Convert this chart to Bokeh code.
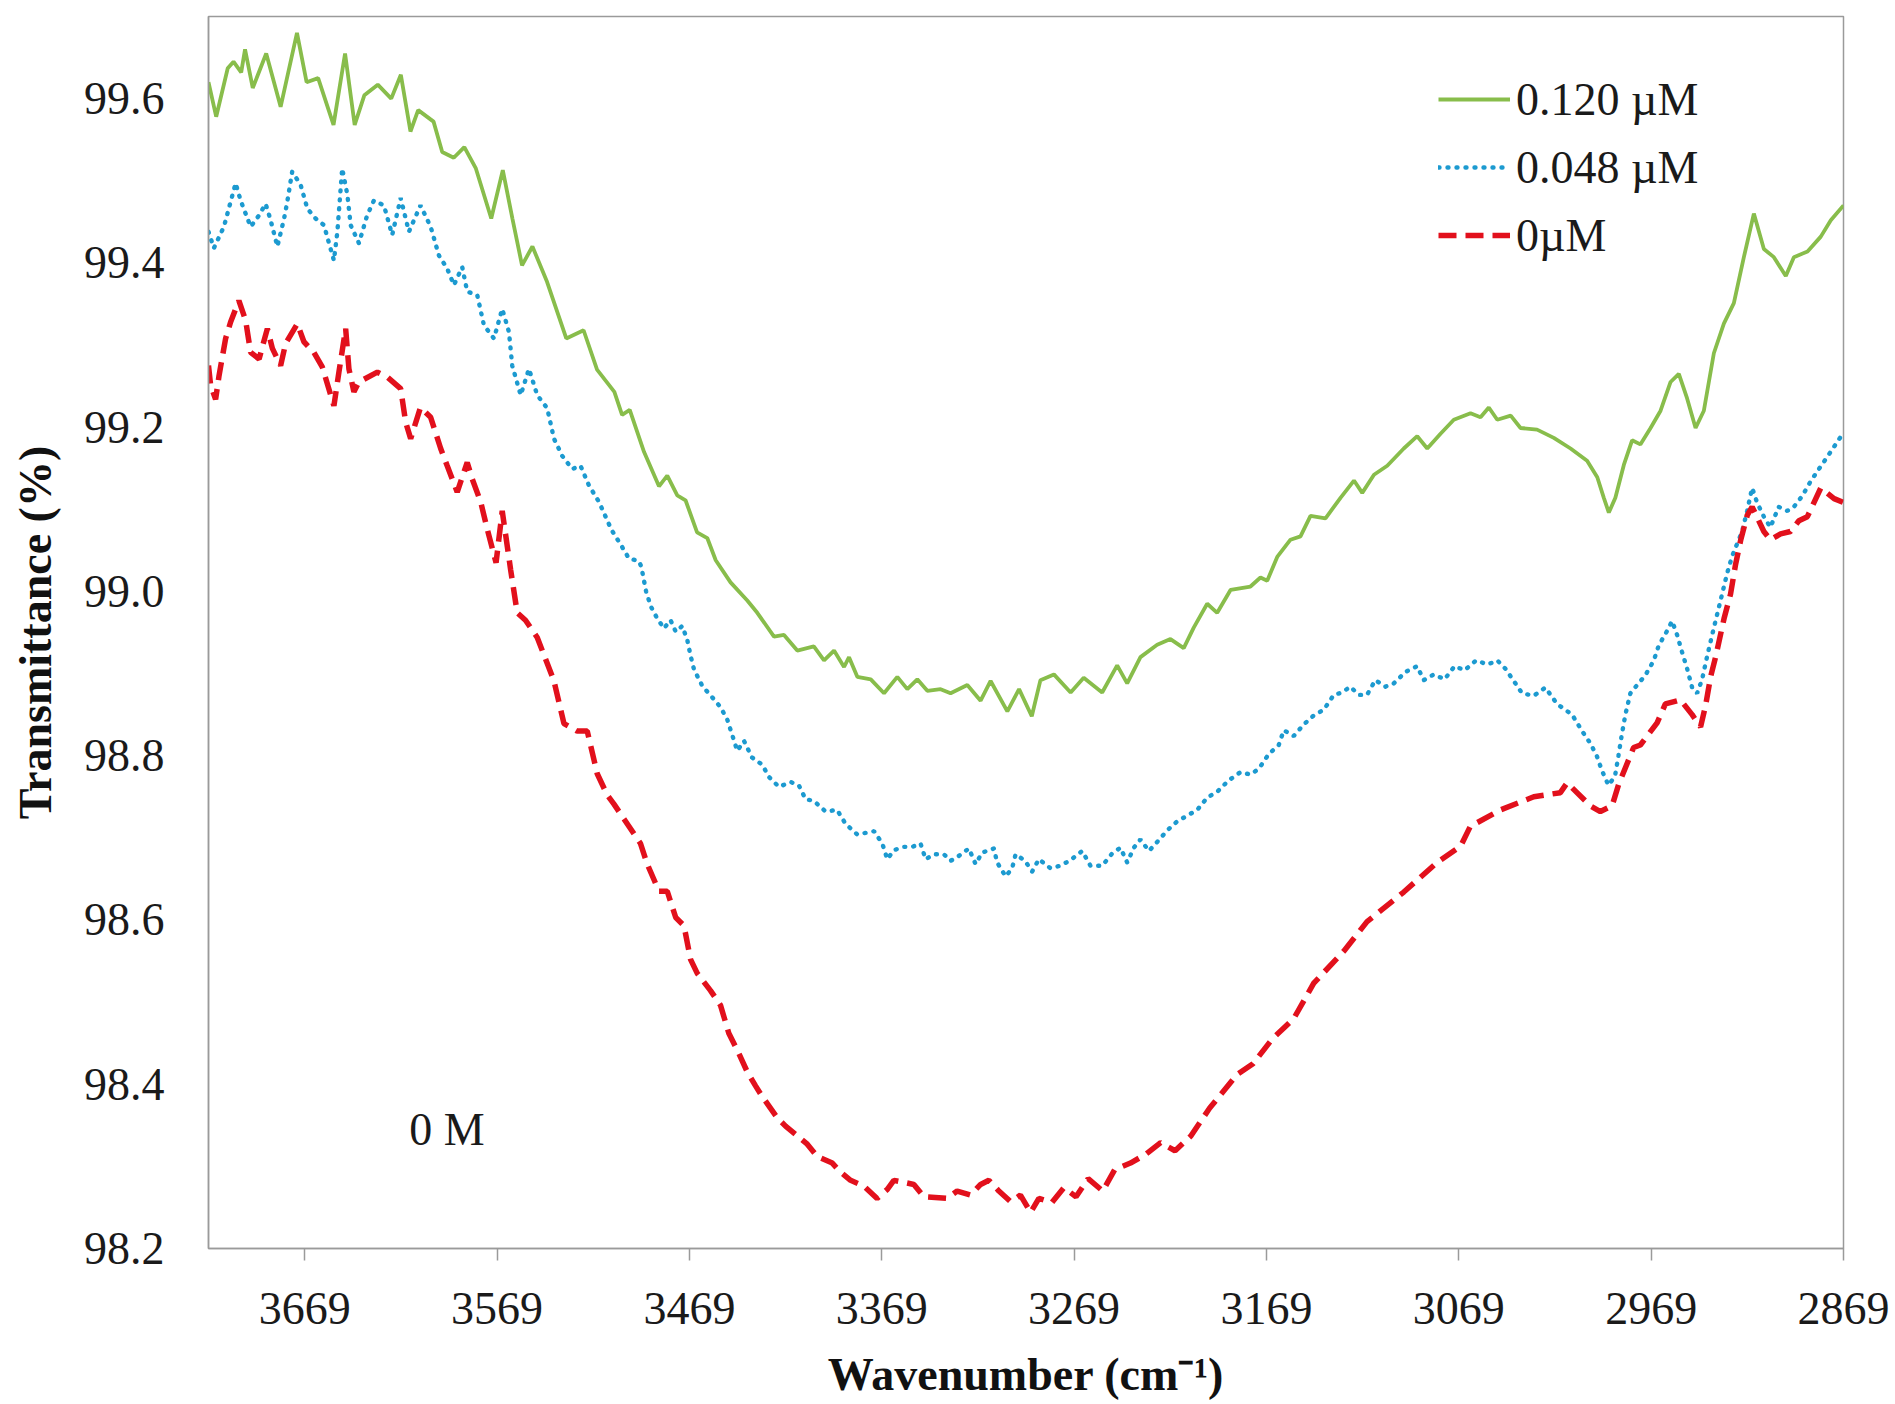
from bokeh.plotting import figure
from bokeh.models import (ColumnDataSource, Range1d, FixedTicker, PrintfTickFormatter,
                          Legend, LegendItem, Label)
from bokeh.embed import file_html
from bokeh.resources import INLINE

# ---------------- data ----------------
x_ticks = [3669, 3569, 3469, 3369, 3269, 3169, 3069, 2969, 2869]
y_ticks = [98.2, 98.4, 98.6, 98.8, 99.0, 99.2, 99.4, 99.6]

series_names = ["0.120 µM", "0.048 µM", "0µM"]

green_wn = [3719, 3715, 3709, 3706, 3702, 3700, 3696, 3689, 3681.5, 3673, 3668, 3662, 3654, 3648,
            3643, 3638, 3631, 3624, 3619, 3614, 3610, 3602, 3597.5, 3591.5, 3586, 3580, 3572, 3566,
            3561, 3556, 3550.6, 3543, 3533, 3524, 3517, 3508, 3504, 3500, 3492.6, 3484.8, 3480.5,
            3475.3, 3471, 3465, 3459.7, 3455.3, 3447.6, 3438.9, 3433.7, 3425, 3419.8, 3412.9, 3404.3,
            3399, 3393.8, 3388.6, 3386, 3381.7, 3374.7, 3367.8, 3360.9, 3355.7, 3350.5, 3345.3,
            3338.4, 3333.2, 3324.5, 3317.6, 3312.4, 3303.7, 3297.6, 3291, 3286.5, 3279.5, 3270.8,
            3264, 3254.4, 3246.6, 3241.4, 3234.5, 3225.8, 3218.9, 3212, 3206.8, 3199.8, 3194.6,
            3187.6, 3177.3, 3172.1, 3168.6, 3163.4, 3156.5, 3151.3, 3146.1, 3138.3, 3130.5, 3123.5,
            3119.2, 3113.1, 3106.2, 3097.6, 3090.6, 3085.4, 3078.5, 3071.6, 3062.9, 3057.7, 3053.4,
            3049, 3042, 3036.9, 3028.3, 3019.6, 3010.9, 3002.3, 2997, 2993.6, 2991, 2987.6, 2983.2,
            2978.9, 2974.6, 2969.3, 2964.1, 2958.9, 2954.6, 2950.3, 2945.9, 2941.6, 2936.4, 2931.2,
            2926, 2920.8, 2915.6, 2910.4, 2905.2, 2899, 2894.8, 2887.7, 2880.8, 2875.6, 2869]
green_t = [99.620, 99.578, 99.637, 99.645, 99.632, 99.660, 99.613, 99.655, 99.590, 99.680, 99.620,
           99.625, 99.568, 99.655, 99.568, 99.604, 99.617, 99.600, 99.629, 99.560, 99.586, 99.572,
           99.535, 99.528, 99.541, 99.515, 99.454, 99.513, 99.454, 99.397, 99.420, 99.377, 99.308,
           99.318, 99.270, 99.243, 99.215, 99.221, 99.170, 99.128, 99.141, 99.117, 99.111, 99.072,
           99.065, 99.038, 99.011, 98.989, 98.974, 98.945, 98.947, 98.928, 98.933, 98.916, 98.928,
           98.908, 98.920, 98.896, 98.893, 98.876, 98.896, 98.881, 98.893, 98.879, 98.881, 98.876,
           98.886, 98.867, 98.891, 98.854, 98.881, 98.848, 98.892, 98.899, 98.877, 98.895, 98.877,
           98.910, 98.888, 98.920, 98.935, 98.942, 98.931, 98.956, 98.985, 98.974, 99.002, 99.006,
           99.017, 99.013, 99.042, 99.063, 99.067, 99.092, 99.089, 99.114, 99.135, 99.120, 99.142,
           99.153, 99.174, 99.189, 99.174, 99.192, 99.209, 99.217, 99.212, 99.224, 99.209, 99.214,
           99.199, 99.197, 99.187, 99.174, 99.159, 99.139, 99.114, 99.096, 99.114, 99.154, 99.184,
           99.179, 99.199, 99.220, 99.255, 99.265, 99.235, 99.199, 99.220, 99.290, 99.326, 99.351,
           99.407, 99.460, 99.417, 99.407, 99.384, 99.407, 99.414, 99.432, 99.452, 99.470]

blue_wn = [3719, 3716.2, 3711, 3704.9, 3702.3, 3697.1, 3692.7, 3689.3, 3686.7, 3683.2, 3679.7, 3678,
           3675.5, 3671.1, 3667.6, 3663.3, 3659, 3653.8, 3652, 3649.5, 3646.8, 3645.1, 3640.8, 3636.5,
           3633, 3627.8, 3623.5, 3619.1, 3614.8, 3608.8, 3603.5, 3599.2, 3594.9, 3591.4, 3587.1,
           3584.5, 3579.3, 3575.8, 3570.6, 3566.3, 3562.8, 3561.1, 3556.7, 3552.4, 3548.1, 3542.9,
           3539.4, 3535.1, 3529.9, 3525.6, 3521.2, 3516, 3509.5, 3504.7, 3500.4, 3495.2, 3494,
           3491.5, 3489.1, 3485.7, 3482.2, 3478.8, 3476.1, 3472.7, 3470.1, 3468.4, 3466.6, 3462.3,
           3457.1, 3452.8, 3449.3, 3446.7, 3444.1, 3440.6, 3436.5, 3431.1, 3427.6, 3422.4, 3416.4,
           3412.1, 3408.6, 3404.3, 3398.2, 3392.2, 3387.8, 3381.7, 3377.4, 3373, 3368.7, 3366.1,
           3362.7, 3357.5, 3353.1, 3348.8, 3346.2, 3341.9, 3336.7, 3333.2, 3328.9, 3323.7, 3320.2,
           3316.8, 3310.7, 3309, 3304.6, 3301.2, 3299.4, 3294.5, 3290.8, 3287.3, 3281.3, 3276.1,
           3270.8, 3264.8, 3260.5, 3254.4, 3249.2, 3244.9, 3241.4, 3237.9, 3234.5, 3230.1, 3225.8,
           3220.6, 3215.4, 3210.2, 3205, 3199.8, 3194.6, 3188.6, 3182.5, 3177.3, 3173, 3167.8,
           3162.6, 3160, 3154.8, 3149.6, 3144.4, 3139.2, 3134, 3129.7, 3125.4, 3121, 3116.7, 3112.4,
           3107.2, 3102.8, 3096.7, 3090.7, 3087.2, 3082, 3076.4, 3071.2, 3066, 3060, 3054, 3049,
           3044.8, 3040.4, 3036.1, 3030, 3024, 3017.9, 3010.1, 3004.9, 3000.6, 2997.3, 2994.6,
           2991.2, 2987.8, 2986, 2984.3, 2982.4, 2979.8, 2976.3, 2972, 2967.6, 2965.1, 2960.7,
           2958.1, 2955.5, 2952.9, 2950.3, 2947.7, 2945.1, 2942.5, 2939.9, 2937.3, 2934.7, 2932.1,
           2929.5, 2926.9, 2924.3, 2921.7, 2919.1, 2916.5, 2913.9, 2910.4, 2907, 2902.7, 2898.3,
           2894.8, 2890.5, 2886.1, 2881.8, 2877.4, 2873.1, 2868.8]
blue_t = [99.438, 99.418, 99.444, 99.497, 99.476, 99.444, 99.458, 99.472, 99.452, 99.420, 99.454,
          99.475, 99.511, 99.495, 99.466, 99.454, 99.446, 99.403, 99.438, 99.515, 99.483, 99.446,
          99.424, 99.458, 99.476, 99.470, 99.434, 99.479, 99.438, 99.470, 99.444, 99.409, 99.393,
          99.373, 99.395, 99.365, 99.361, 99.324, 99.308, 99.344, 99.316, 99.275, 99.239, 99.271,
          99.239, 99.223, 99.186, 99.165, 99.149, 99.153, 99.129, 99.109, 99.075, 99.057, 99.040,
          99.037, 99.030, 99.000, 98.982, 98.967, 98.955, 98.965, 98.951, 98.958, 98.941, 98.922,
          98.905, 98.885, 98.871, 98.859, 98.844, 98.825, 98.806, 98.818, 98.798, 98.789, 98.774,
          98.762, 98.768, 98.764, 98.747, 98.745, 98.732, 98.734, 98.717, 98.704, 98.706, 98.708,
          98.693, 98.674, 98.685, 98.689, 98.689, 98.693, 98.674, 98.680, 98.680, 98.672, 98.678,
          98.687, 98.668, 98.682, 98.687, 98.670, 98.653, 98.663, 98.680, 98.672, 98.659, 98.674,
          98.663, 98.666, 98.673, 98.684, 98.666, 98.666, 98.681, 98.688, 98.670, 98.688, 98.698,
          98.684, 98.695, 98.709, 98.720, 98.727, 98.734, 98.749, 98.756, 98.770, 98.780, 98.777,
          98.784, 98.802, 98.813, 98.831, 98.824, 98.838, 98.849, 98.856, 98.874, 98.877, 98.884,
          98.874, 98.874, 98.892, 98.884, 98.888, 98.902, 98.909, 98.892, 98.899, 98.893, 98.909,
          98.904, 98.916, 98.911, 98.916, 98.906, 98.891, 98.876, 98.873, 98.883, 98.863, 98.850,
          98.830, 98.815, 98.800, 98.782, 98.764, 98.775, 98.800, 98.825, 98.850, 98.876, 98.886,
          98.898, 98.916, 98.934, 98.952, 98.964, 98.947, 98.926, 98.906, 98.883, 98.876, 98.893,
          98.921, 98.947, 98.972, 98.997, 99.022, 99.043, 99.058, 99.073, 99.098, 99.126, 99.108,
          99.091, 99.078, 99.103, 99.098, 99.103, 99.116, 99.134, 99.149, 99.164, 99.179, 99.194]

red_wn = [3719, 3717.9, 3715.3, 3713.5, 3710.1, 3707.5, 3703.2, 3699.7, 3697.1, 3692.7, 3688.4,
          3685.8, 3681.5, 3678.9, 3672.8, 3669.4, 3664.2, 3659.8, 3653.8, 3651.2, 3647.7, 3646,
          3643.4, 3640.8, 3631.2, 3626, 3619.1, 3616.5, 3613.9, 3608.8, 3603.5, 3598.3, 3594.9,
          3589.7, 3584.5, 3581.9, 3577.5, 3574.1, 3569.5, 3566.3, 3561.9, 3558.5, 3554.2, 3548.1,
          3539.4, 3534.2, 3527.3, 3522.1, 3516.9, 3511.7, 3508.2, 3503, 3494.4, 3490.9, 3484.8,
          3480.5, 3476.1, 3471.8, 3468.4, 3464.9, 3458, 3452.8, 3448.5, 3443.2, 3438.9, 3434.6,
          3431.1, 3423.3, 3419, 3407.7, 3402.5, 3394.7, 3390.4, 3385.2, 3378.3, 3371.4, 3366.1,
          3362.7, 3352.3, 3347.1, 3335, 3329.8, 3322.8, 3317.6, 3313.3, 3308.1, 3302, 3296.9,
          3291.6, 3287.3, 3280.5, 3274.3, 3268, 3261.7, 3254.1, 3247.9, 3239.7, 3231.5, 3224,
          3216.5, 3208.3, 3198.5, 3184.2, 3176, 3166, 3154.8, 3144.4, 3128.8, 3116.7, 3097.6,
          3080.3, 3068, 3063, 3047.3, 3030, 3016.2, 3012.7, 3000.6, 2995.4, 2989.3, 2985.9, 2978.1,
          2974.6, 2965.9, 2961.6, 2953.8, 2947.7, 2943.3, 2940.7, 2938.1, 2935.4, 2931.1, 2927.7,
          2925.1, 2922.4, 2919, 2916.5, 2910.4, 2907, 2901.7, 2896.6, 2892.2, 2887.8, 2880.8,
          2873.9, 2868.8]
red_t = [99.275, 99.251, 99.234, 99.263, 99.308, 99.328, 99.354, 99.330, 99.291, 99.283, 99.320,
         99.296, 99.275, 99.302, 99.326, 99.304, 99.291, 99.273, 99.226, 99.267, 99.320, 99.271,
         99.243, 99.255, 99.267, 99.261, 99.247, 99.206, 99.186, 99.224, 99.212, 99.174, 99.153,
         99.121, 99.157, 99.137, 99.109, 99.076, 99.035, 99.098, 99.026, 98.974, 98.965, 98.944,
         98.891, 98.839, 98.830, 98.830, 98.778, 98.752, 98.741, 98.723, 98.693, 98.668, 98.635,
         98.635, 98.603, 98.593, 98.552, 98.535, 98.514, 98.496, 98.462, 98.437, 98.415, 98.398,
         98.385, 98.359, 98.349, 98.327, 98.312, 98.304, 98.293, 98.283, 98.276, 98.261, 98.272,
         98.283, 98.278, 98.263, 98.261, 98.270, 98.265, 98.278, 98.283, 98.270, 98.257, 98.265,
         98.244, 98.261, 98.256, 98.274, 98.263, 98.285, 98.270, 98.296, 98.304, 98.315, 98.329,
         98.319, 98.337, 98.371, 98.412, 98.425, 98.455, 98.480, 98.523, 98.562, 98.598, 98.634,
         98.670, 98.690, 98.714, 98.734, 98.750, 98.755, 98.767, 98.739, 98.732, 98.739, 98.765,
         98.810, 98.813, 98.840, 98.863, 98.868, 98.850, 98.835, 98.861, 98.896, 98.921, 98.967,
         98.997, 99.033, 99.063, 99.093, 99.103, 99.073, 99.063, 99.070, 99.073, 99.086, 99.091,
         99.126, 99.113, 99.108]

note_text = "0 M"
note_wn = 3595
note_t = 98.345

# ---------------- figure ----------------
FONT = "Liberation Serif"
GRAY = "#9a9a9a"

p = figure(width=1895, height=1404, output_backend="svg", toolbar_location=None,
           x_range=Range1d(3719, 2869), y_range=Range1d(98.2, 99.70),
           min_border_left=208, min_border_right=52, min_border_top=16, min_border_bottom=156)
p.grid.visible = False
p.background_fill_color = "white"
p.border_fill_color = "white"
p.outline_line_color = GRAY
p.outline_line_width = 1.5

g = p.line("x", "y", source=ColumnDataSource(dict(x=green_wn, y=green_t)),
           line_color="#88BD4B", line_width=3.8)
b = p.line("x", "y", source=ColumnDataSource(dict(x=blue_wn, y=blue_t)),
           line_color="#1C9AD0", line_width=4.4, line_dash="1 8", line_cap="round")
r = p.line("x", "y", source=ColumnDataSource(dict(x=red_wn, y=red_t)),
           line_color="#E2101C", line_width=5.5, line_dash="18 9")

xa = p.xaxis[0]
xa.ticker = FixedTicker(ticks=x_ticks)
xa.axis_label = "Wavenumber (cm⁻¹)"
xa.major_tick_out = 12
xa.major_tick_in = 0
xa.minor_tick_out = 0
xa.minor_tick_in = 0
xa.major_label_standoff = 32
xa.axis_label_standoff = 22

ya = p.yaxis[0]
ya.ticker = FixedTicker(ticks=y_ticks)
ya.formatter = PrintfTickFormatter(format="%.1f")
ya.axis_label = "Transmittance (%)"
ya.major_tick_out = 0
ya.major_tick_in = 0
ya.minor_tick_out = 0
ya.minor_tick_in = 0
ya.major_label_standoff = 44
ya.axis_label_standoff = 20

for ax in (xa, ya):
    ax.axis_line_color = GRAY
    ax.axis_line_width = 1.5
    ax.major_tick_line_color = GRAY
    ax.major_tick_line_width = 1.5
    ax.major_label_text_font = FONT
    ax.major_label_text_font_size = "46px"
    ax.major_label_text_color = "#1a1a1a"
    ax.axis_label_text_font = FONT
    ax.axis_label_text_font_size = "46px"
    ax.axis_label_text_font_style = "bold"
    ax.axis_label_text_color = "#111111"

legend = Legend(items=[LegendItem(label=series_names[0], renderers=[g]),
                       LegendItem(label=series_names[1], renderers=[b]),
                       LegendItem(label=series_names[2], renderers=[r])],
                location=(1230, 979), orientation="vertical",
                glyph_width=72, glyph_height=68, label_height=68, spacing=0,
                padding=0, margin=0, label_standoff=6,
                label_text_font=FONT, label_text_font_size="46px", label_text_color="#1a1a1a",
                border_line_alpha=0, background_fill_alpha=0)
p.add_layout(legend)

p.add_layout(Label(x=note_wn, y=note_t, text=note_text, text_align="center",
                   text_baseline="middle", text_font=FONT, text_font_size="46px",
                   text_color="#1a1a1a"))

open("out.html", "w").write(file_html(p, INLINE))
